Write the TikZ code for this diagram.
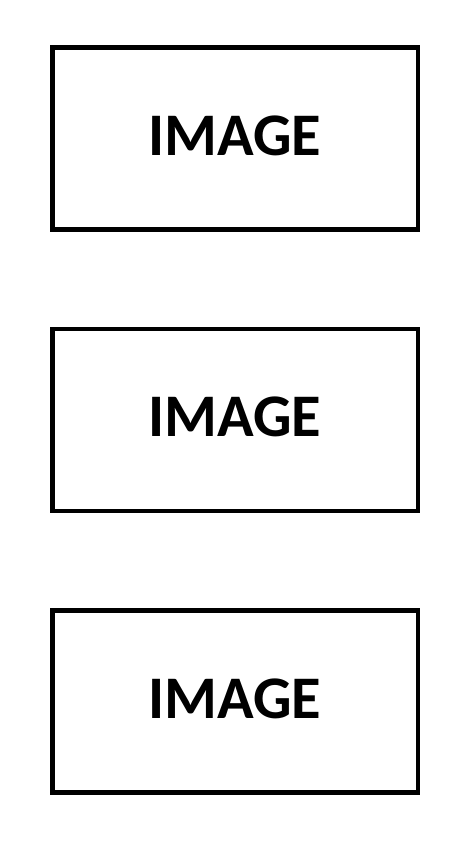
\documentclass[tikz,border=0pt]{standalone}
\usepackage{fontspec}
\setmainfont{Carlito}
\usepackage{tikz}
\usetikzlibrary{positioning}

\tikzset{imgbox/.style={draw,line width=1.28pt,minimum width=3.655cm,minimum height=1.82cm,text depth=0.06cm,font=\fontsize{17.2}{0}\selectfont\bfseries}}

\begin{document}
\begin{tikzpicture}[node distance=0.95cm]
\useasboundingbox (0,0) rectangle (4.63,8.46);
\node[imgbox] (img1) at (2.35,7.075) {IMAGE};
\node[imgbox,below=of img1] (img2) {IMAGE};
\node[imgbox,below=of img2] (img3) {IMAGE};
\end{tikzpicture}
\end{document}
